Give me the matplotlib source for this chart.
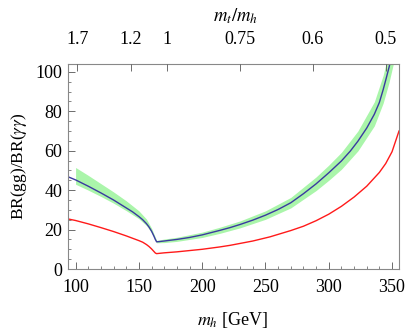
import numpy as np
import matplotlib
matplotlib.use("Agg")
import matplotlib.pyplot as plt
from matplotlib.ticker import MultipleLocator

plt.rcParams["font.family"] = ["Liberation Serif", "DejaVu Serif"]
plt.rcParams["mathtext.fontset"] = "stix"

# SM ratio (blue line)
mh_blue = [94, 100, 110, 120, 130, 140, 145, 150, 153, 156, 158, 160, 162, 163, 164,
           166, 170, 180, 190, 200, 214, 222, 230, 240, 250, 260, 270, 280, 290, 300,
           310, 317, 323, 330, 336, 340, 343, 345.5, 347.5, 349.5]
br_blue = [46.8, 45.2, 42.0, 38.6, 35.0, 31.0, 29.0, 26.6, 25.0, 23.0, 21.3, 19.2, 16.5,
           15.0, 13.8, 13.9, 14.2, 15.0, 16.0, 17.3, 19.6, 21.0, 22.6, 24.8, 27.3, 30.2,
           33.6, 38.2, 43.2, 48.8, 54.8, 59.8, 64.8, 71.5, 78.5, 84.5, 91.0, 97.0, 102.0,
           107.0]

# uncertainty band (green)
mh_band = [100, 110, 120, 130, 140, 150, 156, 160, 162, 164, 170, 180, 200, 214, 230,
           250, 270, 290, 300, 310, 323, 336, 343, 347.5, 351]
band_lo = [43.0, 40.0, 36.8, 33.4, 29.6, 25.5, 22.0, 18.4, 15.9, 13.3, 13.4, 14.0, 16.0,
           18.1, 20.9, 25.2, 31.0, 39.8, 45.0, 50.6, 59.9, 72.6, 84.2, 94.4, 104.0]
band_hi = [51.5, 47.5, 43.3, 39.1, 34.6, 29.5, 25.3, 20.7, 17.6, 14.5, 15.2, 16.1, 18.7,
           21.2, 24.4, 29.5, 36.3, 46.7, 52.7, 59.2, 70.0, 84.8, 98.3, 110.2, 118.0]

# second ratio (red line)
mh_red = [94, 100, 110, 120, 130, 140, 150, 153, 156, 158, 160, 162, 163, 164, 170, 180,
          200, 214, 222, 240, 253.5, 270, 280, 290, 300, 310, 320, 330, 340, 345, 350,
          355.5]
br_red = [25.4, 24.6, 22.9, 21.0, 19.0, 16.8, 14.4, 13.6, 12.4, 11.4, 10.2, 8.8, 8.1, 7.8,
          8.2, 8.7, 10.0, 11.2, 12.0, 14.2, 16.3, 19.5, 21.7, 24.5, 27.8, 31.8, 36.5,
          42.0, 49.0, 53.5, 59.5, 70.0]

mt = 172.5
top_ratios = [1.7, 1.2, 1, 0.75, 0.6, 0.5]
top_labels = ["1.7", "1.2", "1", "0.75", "0.6", "0.5"]

fig = plt.figure(figsize=(4.07, 3.33), dpi=100)
ax = fig.add_axes([68 / 407, 64 / 333, 331 / 407, 205 / 333])

ax.fill_between(mh_band, band_lo, band_hi, color="#aaf5aa", lw=0)
ax.plot(mh_blue, br_blue, color="#3a3aa0", lw=1.0)
ax.plot(mh_red, br_red, color="#ff1a1a", lw=1.0)

ax.set_xlim(94, 355.5)
ax.set_ylim(0, 104)
ax.xaxis.set_major_locator(MultipleLocator(50))
ax.xaxis.set_minor_locator(MultipleLocator(10))
ax.yaxis.set_major_locator(MultipleLocator(20))
ax.yaxis.set_minor_locator(MultipleLocator(5))
ax.tick_params(which="both", direction="in", labelsize=13, color="#555555",
               top=False, right=False)
ax.tick_params(which="major", length=5, width=0.6)
ax.tick_params(which="minor", length=2.5, width=0.5)
ax.tick_params(axis="x", pad=7.5)
ax.tick_params(axis="y", pad=4)
for s in ax.spines.values():
    s.set_color("#888888")
    s.set_linewidth(0.8)

ax.set_ylabel(r"BR(gg)/BR($\gamma\gamma$)", fontsize=12.5, labelpad=5)
fig.text(233 / 407, 3 / 333, r"$m_h$ [GeV]", fontsize=13, ha="center", va="bottom")

ax2 = ax.twiny()
ax2.set_xlim(ax.get_xlim())
ax2.set_xticks([mt / r for r in top_ratios])
ax2.set_xticklabels(top_labels)
ax2.tick_params(direction="in", length=5, width=0.6, labelsize=13, color="#555555", pad=11.5)
for s in ax2.spines.values():
    s.set_visible(False)
fig.text(236 / 407, 1 - 16 / 333, r"$m_t/m_h$", fontsize=13.5, ha="center", va="center")

fig.savefig("out.png", dpi=100)
